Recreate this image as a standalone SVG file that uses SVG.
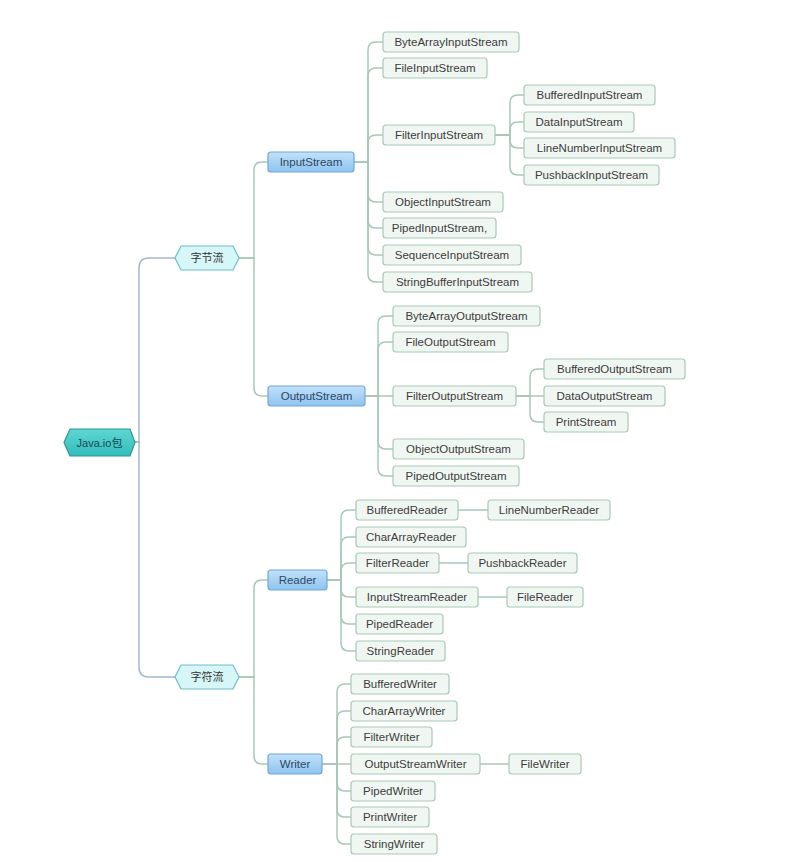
<svg xmlns="http://www.w3.org/2000/svg" width="805" height="862" viewBox="0 0 805 862">
<defs>
<linearGradient id="blueG" x1="0" y1="0" x2="0" y2="1">
<stop offset="0" stop-color="#c2e2fa"/>
<stop offset="1" stop-color="#8ec3ee"/>
</linearGradient>
<linearGradient id="rootG" x1="0" y1="0" x2="0" y2="1">
<stop offset="0" stop-color="#5fd6d3"/>
<stop offset="1" stop-color="#32bdbb"/>
</linearGradient>
</defs>
<style>
text{font-family:"Liberation Sans","Noto Sans CJK SC",sans-serif;font-size:11.5px;text-anchor:middle;dominant-baseline:central}
.leaf rect{fill:#f0f7f2;stroke:#a8c9b6;stroke-width:1.2}
.leaf text{fill:#3c3c3c}
.blue rect{fill:url(#blueG);stroke:#6ea8d8;stroke-width:1.2}
.blue text{fill:#2b4866}
.hex polygon{fill:#d6f6f8;stroke:#6cbfc8;stroke-width:1.2}
.hex text{fill:#333;font-size:11px}
.root polygon{fill:url(#rootG);stroke:#2a9896;stroke-width:1.2}
.root text{fill:#164a55;font-size:11px}
#connectors path{fill:none;stroke:#a9c7b8;stroke-width:1.5}
#connectors .main{stroke:#a3b8cc}
</style>
<rect width="805" height="862" fill="#ffffff"/>
<g id="connectors">
<path class="main" d="M135 442 H139 V268 Q139 258 149 258 H175"/>
<path class="main" d="M135 442 H139 V667 Q139 677 149 677 H175"/>
<path d="M239 258 H254 V170 Q254 162 262 162 H268"/>
<path d="M239 258 H254 V388 Q254 396 262 396 H268"/>
<path d="M239 677 H254 V588 Q254 580 262 580 H268"/>
<path d="M239 677 H254 V756 Q254 764 262 764 H268"/>
<path d="M354 162 H368 V50 Q368 42 376 42 H383"/>
<path d="M354 162 H368 V76 Q368 68 376 68 H383"/>
<path d="M354 162 H368 V143 Q368 135 376 135 H383"/>
<path d="M354 162 H368 V194 Q368 202 376 202 H383"/>
<path d="M354 162 H368 V220 Q368 228 376 228 H383"/>
<path d="M354 162 H368 V247 Q368 255 376 255 H383"/>
<path d="M354 162 H368 V274 Q368 282 376 282 H383"/>
<path d="M495 135 H510 V103 Q510 95 518 95 H524"/>
<path d="M495 135 H510 V130 Q510 122 518 122 H524"/>
<path d="M495 135 H510 V140 Q510 148 518 148 H524"/>
<path d="M495 135 H510 V167 Q510 175 518 175 H524"/>
<path d="M365 396 H378 V324 Q378 316 386 316 H393"/>
<path d="M365 396 H378 V350 Q378 342 386 342 H393"/>
<path d="M365 396 H393"/>
<path d="M365 396 H378 V441 Q378 449 386 449 H393"/>
<path d="M365 396 H378 V468 Q378 476 386 476 H393"/>
<path d="M516 396 H530 V377 Q530 369 538 369 H544"/>
<path d="M516 396 H544"/>
<path d="M516 396 H530 V414 Q530 422 538 422 H544"/>
<path d="M327 580 H341 V518 Q341 510 349 510 H356"/>
<path d="M327 580 H341 V545 Q341 537 349 537 H356"/>
<path d="M327 580 H341 V571 Q341 563 349 563 H356"/>
<path d="M327 580 H341 V589 Q341 597 349 597 H356"/>
<path d="M327 580 H341 V616 Q341 624 349 624 H356"/>
<path d="M327 580 H341 V643 Q341 651 349 651 H356"/>
<path d="M458 510 H488"/>
<path d="M439 563 H468"/>
<path d="M478 597 H507"/>
<path d="M322 764 H337 V692 Q337 684 345 684 H351"/>
<path d="M322 764 H337 V719 Q337 711 345 711 H351"/>
<path d="M322 764 H337 V745 Q337 737 345 737 H351"/>
<path d="M322 764 H351"/>
<path d="M322 764 H337 V783 Q337 791 345 791 H351"/>
<path d="M322 764 H337 V809 Q337 817 345 817 H351"/>
<path d="M322 764 H337 V836 Q337 844 345 844 H351"/>
<path d="M480 764 H509"/>
</g>
<g id="root" class="root"><polygon points="64,442.5 70,429 130,429 135,442.5 130,456 70,456"/><text x="99.5" y="442.5">Java.io包</text></g>
<g id="byteStream" class="hex"><polygon points="175,258 181,246 233,246 239,258 233,270 181,270"/><text x="207" y="258">字节流</text></g>
<g id="charStream" class="hex"><polygon points="175,677 181,665 233,665 239,677 233,689 181,689"/><text x="207" y="677">字符流</text></g>
<g id="InputStream" class="blue"><rect x="268" y="152" width="86" height="20" rx="3"/><text x="311" y="162">InputStream</text></g>
<g id="OutputStream" class="blue"><rect x="268" y="386" width="97" height="20" rx="3"/><text x="316.5" y="396">OutputStream</text></g>
<g id="Reader" class="blue"><rect x="268" y="570" width="59" height="20" rx="3"/><text x="297.5" y="580">Reader</text></g>
<g id="Writer" class="blue"><rect x="268" y="754" width="54" height="20" rx="3"/><text x="295" y="764">Writer</text></g>
<g id="ByteArrayInputStream" class="leaf"><rect x="383" y="32" width="136" height="20" rx="3"/><text x="451" y="42">ByteArrayInputStream</text></g>
<g id="FileInputStream" class="leaf"><rect x="383" y="58" width="104" height="20" rx="3"/><text x="435" y="68">FileInputStream</text></g>
<g id="FilterInputStream" class="leaf"><rect x="383" y="125" width="112" height="20" rx="3"/><text x="439" y="135">FilterInputStream</text></g>
<g id="BufferedInputStream" class="leaf"><rect x="524" y="85" width="131" height="20" rx="3"/><text x="589.5" y="95">BufferedInputStream</text></g>
<g id="DataInputStream" class="leaf"><rect x="524" y="112" width="110" height="20" rx="3"/><text x="579" y="122">DataInputStream</text></g>
<g id="LineNumberInputStream" class="leaf"><rect x="524" y="138" width="151" height="20" rx="3"/><text x="599.5" y="148">LineNumberInputStream</text></g>
<g id="PushbackInputStream" class="leaf"><rect x="524" y="165" width="135" height="20" rx="3"/><text x="591.5" y="175">PushbackInputStream</text></g>
<g id="ObjectInputStream" class="leaf"><rect x="383" y="192" width="120" height="20" rx="3"/><text x="443" y="202">ObjectInputStream</text></g>
<g id="PipedInputStream" class="leaf"><rect x="383" y="218" width="113" height="20" rx="3"/><text x="439.5" y="228">PipedInputStream,</text></g>
<g id="SequenceInputStream" class="leaf"><rect x="383" y="245" width="138" height="20" rx="3"/><text x="452" y="255">SequenceInputStream</text></g>
<g id="StringBufferInputStream" class="leaf"><rect x="383" y="272" width="149" height="20" rx="3"/><text x="457.5" y="282">StringBufferInputStream</text></g>
<g id="ByteArrayOutputStream" class="leaf"><rect x="393" y="306" width="147" height="20" rx="3"/><text x="466.5" y="316">ByteArrayOutputStream</text></g>
<g id="FileOutputStream" class="leaf"><rect x="393" y="332" width="115" height="20" rx="3"/><text x="450.5" y="342">FileOutputStream</text></g>
<g id="FilterOutputStream" class="leaf"><rect x="393" y="386" width="123" height="20" rx="3"/><text x="454.5" y="396">FilterOutputStream</text></g>
<g id="BufferedOutputStream" class="leaf"><rect x="544" y="359" width="141" height="20" rx="3"/><text x="614.5" y="369">BufferedOutputStream</text></g>
<g id="DataOutputStream" class="leaf"><rect x="544" y="386" width="121" height="20" rx="3"/><text x="604.5" y="396">DataOutputStream</text></g>
<g id="PrintStream" class="leaf"><rect x="544" y="412" width="84" height="20" rx="3"/><text x="586" y="422">PrintStream</text></g>
<g id="ObjectOutputStream" class="leaf"><rect x="393" y="439" width="131" height="20" rx="3"/><text x="458.5" y="449">ObjectOutputStream</text></g>
<g id="PipedOutputStream" class="leaf"><rect x="393" y="466" width="126" height="20" rx="3"/><text x="456" y="476">PipedOutputStream</text></g>
<g id="BufferedReader" class="leaf"><rect x="356" y="500" width="102" height="20" rx="3"/><text x="407" y="510">BufferedReader</text></g>
<g id="LineNumberReader" class="leaf"><rect x="488" y="500" width="122" height="20" rx="3"/><text x="549" y="510">LineNumberReader</text></g>
<g id="CharArrayReader" class="leaf"><rect x="356" y="527" width="110" height="20" rx="3"/><text x="411" y="537">CharArrayReader</text></g>
<g id="FilterReader" class="leaf"><rect x="356" y="553" width="83" height="20" rx="3"/><text x="397.5" y="563">FilterReader</text></g>
<g id="PushbackReader" class="leaf"><rect x="468" y="553" width="109" height="20" rx="3"/><text x="522.5" y="563">PushbackReader</text></g>
<g id="InputStreamReader" class="leaf"><rect x="356" y="587" width="122" height="20" rx="3"/><text x="417" y="597">InputStreamReader</text></g>
<g id="FileReader" class="leaf"><rect x="507" y="587" width="76" height="20" rx="3"/><text x="545" y="597">FileReader</text></g>
<g id="PipedReader" class="leaf"><rect x="356" y="614" width="87" height="20" rx="3"/><text x="399.5" y="624">PipedReader</text></g>
<g id="StringReader" class="leaf"><rect x="356" y="641" width="89" height="20" rx="3"/><text x="400.5" y="651">StringReader</text></g>
<g id="BufferedWriter" class="leaf"><rect x="351" y="674" width="98" height="20" rx="3"/><text x="400" y="684">BufferedWriter</text></g>
<g id="CharArrayWriter" class="leaf"><rect x="351" y="701" width="106" height="20" rx="3"/><text x="404" y="711">CharArrayWriter</text></g>
<g id="FilterWriter" class="leaf"><rect x="351" y="727" width="81" height="20" rx="3"/><text x="391.5" y="737">FilterWriter</text></g>
<g id="OutputStreamWriter" class="leaf"><rect x="351" y="754" width="129" height="20" rx="3"/><text x="415.5" y="764">OutputStreamWriter</text></g>
<g id="FileWriter" class="leaf"><rect x="509" y="754" width="72" height="20" rx="3"/><text x="545" y="764">FileWriter</text></g>
<g id="PipedWriter" class="leaf"><rect x="351" y="781" width="84" height="20" rx="3"/><text x="393" y="791">PipedWriter</text></g>
<g id="PrintWriter" class="leaf"><rect x="351" y="807" width="78" height="20" rx="3"/><text x="390" y="817">PrintWriter</text></g>
<g id="StringWriter" class="leaf"><rect x="351" y="834" width="86" height="20" rx="3"/><text x="394" y="844">StringWriter</text></g>
</svg>
